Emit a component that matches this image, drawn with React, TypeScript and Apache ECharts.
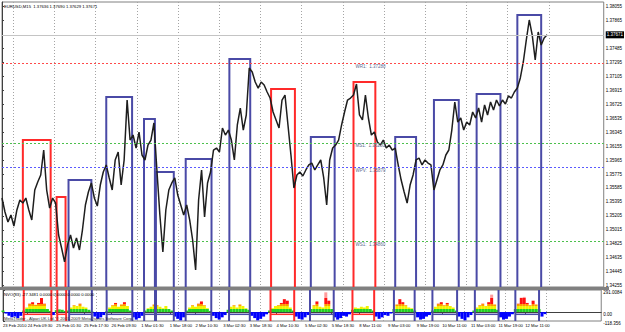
import React, { useEffect, useRef } from 'react';
import * as echarts from 'echarts';

// EURUSD M15 closes (one sample per ~3px of the original chart)
const closes = [
  1.35448, 1.35258, 1.35121, 1.35217, 1.35067, 1.35285, 1.35421, 1.35380, 1.35448, 1.35285,
  1.35149, 1.35557, 1.35666, 1.35762, 1.36102, 1.35557, 1.35312, 1.35448, 1.35380, 1.34944,
  1.34767, 1.34577, 1.34808, 1.34944, 1.34767, 1.34903, 1.34740, 1.35012, 1.35353, 1.35530,
  1.35653, 1.35448, 1.35339, 1.35625, 1.35802, 1.35898, 1.35721, 1.35557, 1.35966, 1.36075,
  1.35625, 1.35966, 1.36783, 1.36238, 1.36306, 1.36129, 1.36347, 1.36034, 1.35966, 1.36170,
  1.36238, 1.36470, 1.35830, 1.35217, 1.34713, 1.35285, 1.35557, 1.35653, 1.35721, 1.35489,
  1.35353, 1.35217, 1.35353, 1.35149, 1.34876, 1.34468, 1.35421, 1.35830, 1.35190, 1.35653,
  1.35802, 1.36102, 1.36129, 1.36075, 1.36402, 1.36306, 1.36374, 1.36238, 1.35966, 1.36443,
  1.36674, 1.36374, 1.36579, 1.37219, 1.37164, 1.37028, 1.36946, 1.37028, 1.36987, 1.36892,
  1.36810, 1.36620, 1.36511, 1.36402, 1.36783, 1.36851, 1.36443, 1.36034, 1.35584, 1.35762,
  1.35802, 1.35748, 1.35830, 1.35898, 1.35925, 1.35830, 1.35898, 1.35966, 1.35721, 1.35353,
  1.35966, 1.36129, 1.36170, 1.36238, 1.36443, 1.36620, 1.36783, 1.36810, 1.36851, 1.37001,
  1.36579, 1.36511, 1.36851, 1.36538, 1.36306, 1.36347, 1.36211, 1.36170, 1.36238, 1.36129,
  1.36170, 1.36102, 1.36129, 1.35898, 1.35693, 1.35530, 1.35380, 1.35625, 1.35762, 1.35966,
  1.35993, 1.35898, 1.35966, 1.35925, 1.35898, 1.35557, 1.35693, 1.35830, 1.35898, 1.36034,
  1.36102, 1.36374, 1.36756, 1.36483, 1.36538, 1.36374, 1.36483, 1.36443, 1.36620, 1.36538,
  1.36674, 1.36483, 1.36715, 1.36579, 1.36756, 1.36647, 1.36783, 1.36701, 1.36783, 1.36729,
  1.36838, 1.36810, 1.36892, 1.36946, 1.37083, 1.37301, 1.37600, 1.37873, 1.37668, 1.37328,
  1.37709, 1.37532, 1.37627, 1.37671,
];

// NVO(83) oscillator values
const nvo = [
  20, -20, -50, -70, -60, -80, -50, 20, 60, 110,
  130, 95, 120, 185, 110, 40, 15, -40, 25, 35,
  30, 15, 20, 60, 90, 80, 110, 70, 60, 30,
  10, -60, -90, -70, -40, 10, 60, 90, 120, 70,
  100, 130, 80, 20, -70, -100, -80, -50, 20, 50,
  70, 100, 90, 70, 50, 80, 40, 20, -60, -90,
  -110, -70, 20, 60, 90, 70, 110, 140, 90, 50,
  15, -50, -80, -100, -70, -40, 30, 70, 90, 60,
  100, 80, 50, 30, -50, -80, -110, -90, -60, -30,
  20, 50, 80, 90, 120, 170, 150, 60, 20, -60,
  -90, -100, -70, -40, 40, 90, 140, 70, 60, 260,
  150, 40, -70, -100, -80, -50, -60, -30, 30, 60,
  50, 70, 60, 80, 40, 20, -60, -90, -70, -40,
  -50, -20, 40, 100, 170, 130, 90, 60, 50, 20,
  -70, -100, -90, -60, -40, 20, 70, 110, 130, 90,
  120, 80, 60, 20, -60, -90, -110, -70, -40, 20,
  60, 90, 110, 80, 130, 230, 100, 30, -70, -100,
  -90, -60, -30, 40, 110, 190, 200, 120, 90, 150,
  100, 40, -60, -27.3481,
];

// session boxes (bar positions and top price)
const boxLeft = [7, 18.33, 22.33, 35, 47.67, 51.67, 61.67, 76.33, 90.33, 103.67, 118, 132, 145, 159.33, 173];
const boxRight = [16.33, 21.33, 30, 43.67, 51.33, 57.67, 70.33, 83.33, 98.33, 111.67, 125.33, 139, 153.33, 167.33, 181];
const boxTop = [1.36238, 1.35462, 1.35693, 1.36824, 1.36524, 1.35802, 1.3598, 1.37341, 1.36933, 1.36279, 1.37028, 1.36279, 1.36783, 1.36865, 1.37941];
const boxKind = ['r', 'r', 'b', 'b', 'b', 'b', 'b', 'b', 'r', 'b', 'r', 'b', 'b', 'b', 'b'];

const timeLabels = [
  '23 Feb 2010', '24 Feb 09:30', '25 Feb 01:30', '25 Feb 17:30', '26 Feb 09:30',
  '1 Mar 01:30', '1 Mar 18:00', '2 Mar 10:30', '3 Mar 02:30', '3 Mar 18:30',
  '4 Mar 10:30', '5 Mar 02:30', '5 Mar 18:30', '8 Mar 11:00', '9 Mar 03:00',
  '9 Mar 19:00', '10 Mar 11:00', '11 Mar 03:00', '11 Mar 19:00', '12 Mar 11:00',
];
const timeLabelPos = [0, 8.33, 18, 27.33, 36.67, 46.67, 56.33, 65, 74.33, 83.33, 92.33, 102, 111, 120.33, 130, 139.67, 148.33, 158, 167.33, 176.33];

const priceTicks = [
  1.38055, 1.37865, 1.37485, 1.37295, 1.37105, 1.36915, 1.36725, 1.36535, 1.36345, 1.36155,
  1.35965, 1.35775, 1.35585, 1.35395, 1.35205, 1.35015, 1.34825, 1.34635, 1.34445, 1.34255,
];
const lastPrice = 1.37671;

const pivotNames = ['WR1', 'MS1', 'WPV', 'WS1'];
const pivotValues = [1.3728, 1.362, 1.3587, 1.3486];
const pivotColors = ['#ff4a4a', '#4cc04c', '#5a5aff', '#4cc04c'];
const pivotLabelAt = 118.67;

const nvoTicks = [291.0084, 0, -118.356];
const nvoTickText = ['291.0084', '0.00', '-118.356'];

const XMAX = 202;
const gridX = Array.from({ length: 14 }, (_, k) => 3.667 + 13.833 * k);

const FONT = "'Liberation Sans Narrow', 'Liberation Sans', sans-serif";
const FS = 4.5;
const FSX = 4.2;
const boxColor = (k: string) => (k === 'r' ? '#ff2a2a' : '#4a4aa6');

const vGridSeries = (axisIndex: number, yRef: number) => ({
  type: 'custom', xAxisIndex: axisIndex, yAxisIndex: axisIndex, z: 1, silent: true,
  encode: { x: 0, y: 1 },
  data: gridX.map((x) => [x, yRef]),
  renderItem: (params: any, api: any) => {
    const p = api.coord([api.value(0), api.value(1)]);
    const top = params.coordSys.y;
    const bottom = params.coordSys.y + params.coordSys.height;
    const x = Math.round(p[0]) + 0.5;
    return {
      type: 'line',
      shape: { x1: x, y1: top, x2: x, y2: bottom },
      style: { stroke: '#a4a4a4', lineWidth: 1, lineDash: [1, 2] },
    };
  },
});

export default function App() {
  const ref = useRef<HTMLDivElement>(null);
  useEffect(() => {
    const chart = echarts.init(ref.current!, null, { renderer: 'svg' });
    const posGrad = new echarts.graphic.LinearGradient(0, 290, 0, 312, [
      { offset: 0, color: '#ff9c9c' }, { offset: 0.36, color: '#ff9c9c' },
      { offset: 0.36, color: '#ff1010' }, { offset: 0.62, color: '#ff1010' },
      { offset: 0.62, color: '#ff9900' }, { offset: 0.72, color: '#ff9900' },
      { offset: 0.72, color: '#f2f200' }, { offset: 0.85, color: '#f2f200' },
      { offset: 0.85, color: '#22d022' }, { offset: 1, color: '#22d022' },
    ], true);
    const boxData = boxLeft.map((l, i) => [l, boxRight[i], boxTop[i], i]);

    chart.setOption({
      animation: false,
      backgroundColor: '#ffffff',
      grid: [
        { left: 2, top: 2, width: 606, height: 285, show: true, borderColor: '#808080', borderWidth: 1 },
        { left: 2, top: 290, width: 606, height: 31, show: true, borderColor: '#808080', borderWidth: 1 },
      ],
      xAxis: [
        { type: 'value', gridIndex: 0, min: 0, max: XMAX, show: false },
        {
          type: 'value', gridIndex: 1, min: 0, max: XMAX, position: 'bottom',
          axisLine: { show: true, lineStyle: { color: '#404040' } },
          axisTick: { show: true, customValues: timeLabelPos, length: 2, lineStyle: { color: '#404040' } },
          axisLabel: {
            show: true, customValues: timeLabelPos, align: 'left', margin: 2, fontSize: FSX,
            fontFamily: FONT, color: '#000',
            formatter: (v: number) => { const k = timeLabelPos.indexOf(v); return k >= 0 ? timeLabels[k] : ''; },
          },
          splitLine: { show: false },
        },
      ],
      yAxis: [
        {
          type: 'value', gridIndex: 0, position: 'right', min: 1.34236, max: 1.38118,
          axisLine: { show: true, lineStyle: { color: '#404040' } },
          axisTick: { show: true, customValues: priceTicks, length: 2, lineStyle: { color: '#404040' } },
          axisLabel: { show: true, customValues: priceTicks, fontSize: FS, fontFamily: FONT, color: '#000', margin: 2, formatter: (v: number) => v.toFixed(5) },
          splitLine: { show: false },
        },
        {
          type: 'value', gridIndex: 1, position: 'right', min: -118.356, max: 291.0084,
          axisLine: { show: true, lineStyle: { color: '#404040' } },
          axisTick: { show: true, customValues: nvoTicks, length: 2 },
          axisLabel: {
            show: true, customValues: nvoTicks, fontSize: FS, fontFamily: FONT, color: '#000', margin: 2,
            verticalAlign: 'top',
            formatter: (v: number) => { const k = nvoTicks.indexOf(v); return k >= 0 ? nvoTickText[k] : ''; },
          },
          splitLine: { show: false },
        },
      ],
      series: [
        vGridSeries(0, 1.36),
        {
          type: 'custom', xAxisIndex: 0, yAxisIndex: 0, z: 3,
          encode: { x: [0, 1], y: 2 },
          data: boxData,
          renderItem: (params: any, api: any) => {
            const p1 = api.coord([api.value(0), api.value(2)]);
            const p2 = api.coord([api.value(1), api.value(2)]);
            const bottom = params.coordSys.y + params.coordSys.height;
            return {
              type: 'polyline',
              shape: { points: [[p1[0], bottom], p1, p2, [p2[0], bottom]] },
              style: { stroke: boxColor(boxKind[api.value(3)]), fill: 'none', lineWidth: 2 },
            };
          },
        },
        {
          type: 'line', xAxisIndex: 0, yAxisIndex: 0, z: 4,
          data: closes.map((v, i) => [i, v]),
          symbol: 'none',
          lineStyle: { color: '#1e1e1e', width: 1.5 },
          markLine: {
            silent: true, symbol: ['none', 'none'], precision: 6,
            data: [
              ...pivotValues.map((v, i) => ({ yAxis: v, label: { show: false }, lineStyle: { color: pivotColors[i], type: [2, 2], width: 1 } })),
              {
                yAxis: lastPrice,
                lineStyle: { color: '#c4c4c4', type: 'solid', width: 1 },
                label: {
                  show: true, position: 'end', formatter: lastPrice.toFixed(5), backgroundColor: '#000',
                  color: '#fff', fontSize: FS, fontFamily: FONT, padding: [1, 1], distance: 2,
                },
              },
            ],
            label: { show: false },
          },
          markPoint: {
            silent: true, symbol: 'circle', symbolSize: 0,
            data: pivotValues.map((v, i) => ({
              coord: [pivotLabelAt, v],
              label: {
                show: true, position: 'right', distance: 0, offset: [0, 3],
                formatter: `${pivotNames[i]}:  ${v.toFixed(5)}`,
                fontSize: FS, fontFamily: FONT, color: '#5a6a90',
              },
            })),
          },
        },
        vGridSeries(1, 0),
        {
          type: 'bar', xAxisIndex: 1, yAxisIndex: 1, z: 2, barWidth: 3,
          data: nvo.map((v, i) => ({ value: [i, v], itemStyle: { color: v >= 0 ? posGrad : '#0000ff' } })),
        },
        {
          type: 'custom', xAxisIndex: 1, yAxisIndex: 1, z: 3,
          encode: { x: [0, 1] },
          data: boxData,
          renderItem: (params: any, api: any) => {
            const pl = api.coord([api.value(0), -30]);
            const pr = api.coord([api.value(1), -30]);
            const top = params.coordSys.y;
            const bottom = params.coordSys.y + params.coordSys.height;
            const stroke = boxColor(boxKind[api.value(3)]);
            return {
              type: 'group',
              children: [
                { type: 'line', shape: { x1: pl[0], y1: top, x2: pl[0], y2: bottom }, style: { stroke, lineWidth: 2 } },
                { type: 'line', shape: { x1: pr[0], y1: top, x2: pr[0], y2: bottom }, style: { stroke, lineWidth: 2 } },
                { type: 'line', shape: { x1: pl[0], y1: pl[1], x2: pr[0], y2: pr[1] }, style: { stroke, lineWidth: 1.5 } },
              ],
            };
          },
        },
      ],
      graphic: [
        { type: 'rect', z: 100, shape: { x: 0, y: 287, width: 609, height: 3 }, style: { fill: '#808080' } },
        { type: 'text', z: 100, left: 4, top: 4, style: { text: 'EURUSD,M15  1.37636 1.37690 1.37629 1.37671', fontSize: FSX, fontFamily: FONT, fill: '#000' } },
        { type: 'text', z: 100, left: 4, top: 292, style: { text: 'NVO(83) -27.3481 0.0000 0.0000 0.0000 0.0000', fontSize: FSX, fontFamily: FONT, fill: '#000' } },
        { type: 'text', z: 100, left: 4, top: 316, style: { text: 'MetaTrader - Alpari UK Ltd. \u00a9 2001-2009 MetaQuotes Software Corp.', fontSize: FSX, fontFamily: FONT, fill: '#303030' } },
      ],
    });
    return () => chart.dispose();
  }, []);
  return <div ref={ref} style={{ position: 'fixed', left: 0, top: 0, width: 625, height: 332 }} />;
}
